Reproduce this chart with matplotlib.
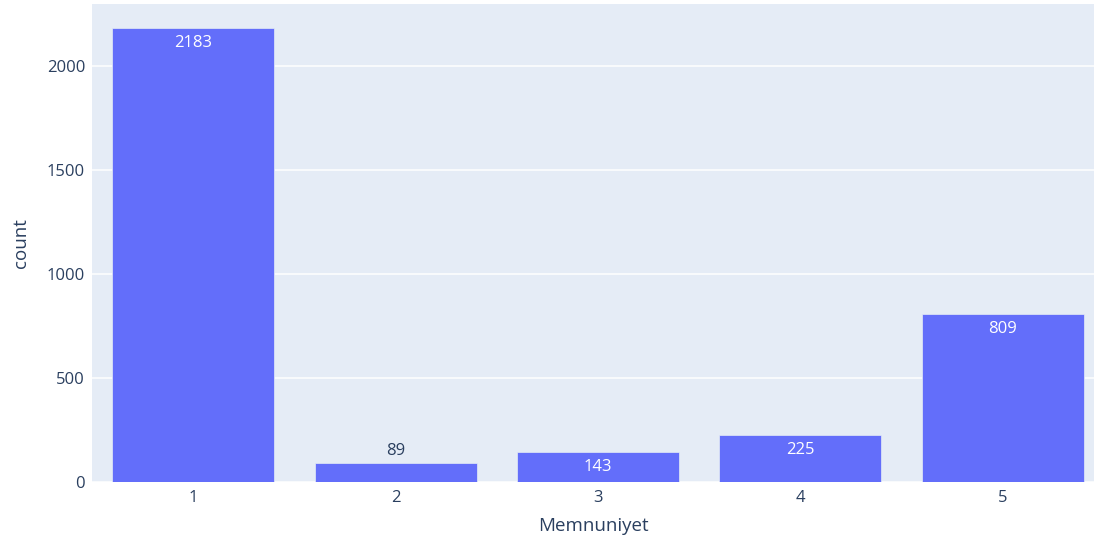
import matplotlib
matplotlib.use("Agg")
import matplotlib.pyplot as plt

categories = [1, 2, 3, 4, 5]
counts = [2183, 89, 143, 225, 809]
inside = [True, False, True, True, True]

plt.rcParams['font.family'] = ['Open Sans', 'DejaVu Sans']
text_color = '#2a3f5f'

fig = plt.figure(figsize=(10.94, 5.40), dpi=100)
ax = fig.add_axes([92 / 1094, 58 / 540, 1 - 92 / 1094, 478 / 540])
ax.set_facecolor('#e5ecf6')

ax.bar(categories, counts, width=0.8, color='#636efa',
       edgecolor='#e5ecf6', linewidth=0.5, zorder=3)

for c, v, ins in zip(categories, counts, inside):
    if ins:
        ax.annotate(str(v), xy=(c, v), xytext=(0, -5), textcoords='offset points',
                    ha='center', va='top', color='white', fontsize=12, zorder=4)
    else:
        ax.annotate(str(v), xy=(c, v), xytext=(0, 3), textcoords='offset points',
                    ha='center', va='bottom', color=text_color, fontsize=12, zorder=4)

ax.set_xlim(0.5, 5.451)
ax.set_ylim(0, 2298)
ax.set_xticks(categories)
ax.set_yticks([0, 500, 1000, 1500, 2000])
ax.grid(axis='y', color='white', linewidth=1.1, zorder=0)
ax.set_axisbelow(True)
for s in ax.spines.values():
    s.set_visible(False)
ax.tick_params(axis='both', length=0, labelsize=12, labelcolor=text_color)
ax.tick_params(axis='y', pad=5)
ax.tick_params(axis='x', pad=6)

ax.set_xlabel('Memnuniyet', fontsize=13.5, color=text_color, labelpad=8)
ax.set_ylabel('count', fontsize=13.5, color=text_color, labelpad=12)

fig.savefig('out.png', dpi=100)
